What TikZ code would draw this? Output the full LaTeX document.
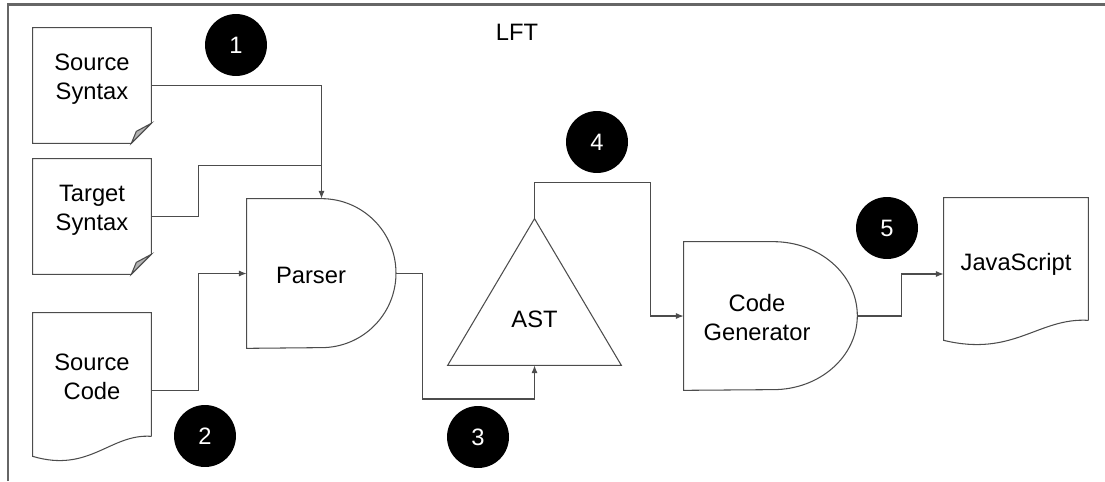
\documentclass[tikz,border=0pt]{standalone}
\usepackage{fontspec}
\setmainfont{Liberation Sans}
\usetikzlibrary{arrows.meta,calc,positioning}

\begin{document}
\begin{tikzpicture}[x=0.02cm, y=0.02cm, >={Latex[length=4.5pt,width=3.5pt]},
  every node/.style={font=\fontsize{13.5}{16.4}\selectfont},
  box/.style={draw=none, inner sep=0pt},
  lbl/.style={align=center, inner sep=0pt},
  shp/.style={draw=black!70, line width=0.6pt},
  wire/.style={draw=black!70, line width=0.6pt},
  badge/.style={circle, fill=black, text=white, minimum size=1.24cm, inner sep=0pt}]

  \useasboundingbox (0,0) rectangle (1105,481);

  % frame
  \draw[black!60, line width=1.2pt] (8,0) -- (8,476.5) -- (1105,476.5);
  \node (title) at (517,449) {LFT};

  % input documents
  \node[box, minimum width=2.36cm, minimum height=2.3cm,
    label={[lbl,yshift=0.12cm]center:Source\\Syntax}] (srcsyn) at (92,395.5) {};
  \node[box, minimum width=2.36cm, minimum height=2.3cm,
    label={[lbl,yshift=0.12cm]center:Target\\Syntax}] (tgtsyn) at (92,264.5) {};
  \node[box, minimum width=2.36cm, minimum height=2.46cm,
    label={[lbl,yshift=-0.04cm]center:Source\\Code}] (srccode) at (92,106.5) {};

  % folded corner
  \foreach \d in {srcsyn,tgtsyn} {
    \draw[shp] (\d.south west) -- (\d.north west) -- (\d.north east)
      -- ($(\d.south east)+(0,20)$) -- ($(\d.south east)+(-20,0)$) -- cycle;
    \draw[shp, fill=black!30] ($(\d.south east)+(0,20)$) -- ($(\d.south east)+(-20,0)$)
      -- ($(\d.south east)+(-15,12)$) -- cycle;
  }

  % wavy bottom
  \draw[shp] (srccode.south east) -- (srccode.north east) -- (srccode.north west)
    -- ($(srccode.south west)+(0,-20)$)
    .. controls ($(srccode.south west)+(57,-37)$) and ($(srccode.south east)+(-41,3)$) .. (srccode.south east);

  % parser
  \node[box, minimum width=2.98cm, minimum height=2.98cm,
    label={[lbl,xshift=-0.21cm,yshift=-0.03cm]center:Parser}] (parser) at (321.5,207.5) {};
  \draw[shp] (parser.south west) -- (parser.north west) -- (parser.north)
    arc[start angle=90, end angle=-90, radius=1.49cm] -- cycle;

  % tree
  \node[box, minimum width=3.46cm, minimum height=2.92cm,
    label={[lbl,yshift=-0.54cm]center:AST}] (ast) at (534.5,189) {};
  \draw[shp] (ast.south west) -- (ast.north) -- (ast.south east) -- cycle;

  % generator
  \node[box, minimum width=3.46cm, minimum height=2.96cm,
    label={[lbl,xshift=-0.27cm,yshift=-0.03cm]center:Code\\Generator}] (codegen) at (770.5,165) {};
  \draw[shp] (codegen.south west) -- (codegen.north west) -- ($(codegen.north east)+(-84,0)$)
    arc[start angle=90, end angle=-90, x radius=1.68cm, y radius=1.48cm] -- cycle;

  % output
  \node[box, minimum width=2.88cm, minimum height=2.44cm,
    label={[lbl,yshift=-0.11cm]center:JavaScript}] (js) at (1016,222) {};
  \draw[shp] (js.south east) -- (js.north east) -- (js.north west)
    -- ($(js.south west)+(0,-20)$)
    .. controls ($(js.south west)+(70,-37)$) and ($(js.south east)+(-50,3)$) .. (js.south east);

  % wires
  \draw[wire,->] (srcsyn.east) -| (parser.north);
  \draw[wire] (tgtsyn.east) -- ++(47,0) |- ($(parser.north)+(0,33)$);
  \draw[wire,->] ([yshift=-0.32cm]srccode.east) -- ++(47,0) |- (parser.west);
  \draw[wire,->] (parser.east) -- ++(26,0) -- ++(0,-125.5) -| (ast.south);
  \draw[wire,->] (ast.north) -- ++(0,36) -| ($(codegen.west)+(-33,0)$) -- (codegen.west);
  \draw[wire,->] (codegen.east) -- ++(44,0) |- ([yshift=-0.3cm]js.west);

  % step numbers
  \foreach \n/\x/\y in {1/236/436, 2/205/45, 3/478/44, 4/597/339, 5/887/253}
    \node[badge] (num\n) at (\x,\y) {\n};
\end{tikzpicture}
\end{document}
